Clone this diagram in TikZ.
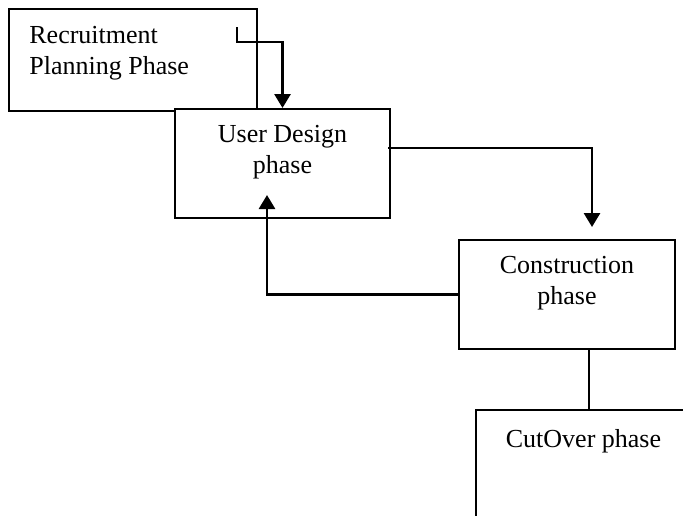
\documentclass[tikz,border=0pt]{standalone}
\usepackage{fontspec}
\setmainfont{Liberation Serif}
\usetikzlibrary{positioning,calc,arrows.meta}

\begin{document}
\begin{tikzpicture}[x=0.5pt, y=-0.5pt,
    phasebox/.style={draw, line width=1pt, fill=white, inner sep=0pt},
    phasetext/.style={inner sep=0pt, font=\fontsize{13pt}{15.5pt}\selectfont},
    flow/.style={line width=1.4pt, -{Triangle[width=8pt,length=7pt]}},
    link/.style={line width=1pt}]
        % Frame
        \useasboundingbox (0,0) rectangle (683,515);
        \clip (0,0) rectangle (683,515);

        % Boxes
        \node[phasebox, minimum width=124pt, minimum height=51pt] (recruit) at (133,60) {};
        \node[phasetext, align=left, below right=9pt and 10.5pt of recruit.north west] (recruittxt) {Recruitment\\Planning Phase};

        \node[phasebox, minimum width=107.5pt, minimum height=54.5pt] (design) at (282.5,163.5) {};
        \node[phasetext, align=center, below=8.5pt of design.north] (designtxt) {User Design\\phase};

        \node[phasebox, minimum width=108pt, minimum height=54.5pt] (constr) at (567,294.5) {};
        \node[phasetext, align=center, below=8.5pt of constr.north] (constrtxt) {Construction\\phase};

        \node[phasebox, anchor=north west, minimum width=107.5pt, minimum height=70pt] (cutover) at (475,409) {};
        \node[phasetext, below=10pt of cutover.north] (cutovertxt) {CutOver phase};

        % Connectors
        \coordinate (rstart) at (237,27);
        \draw[flow] (rstart) -- ++(0,15) -| (design.north);

        \coordinate (dtip) at (592,227);
        \draw[flow] ($(design.east)+(-3,-15.5)$) -| (dtip);

        \coordinate (btip) at (267,195);
        \draw[flow] (constr.west) -| (btip);

        \draw[link] ($(constr.south)+(22,0)$) coordinate (cdown) -- (cdown |- cutover.north);
      \end{tikzpicture}
\end{document}
